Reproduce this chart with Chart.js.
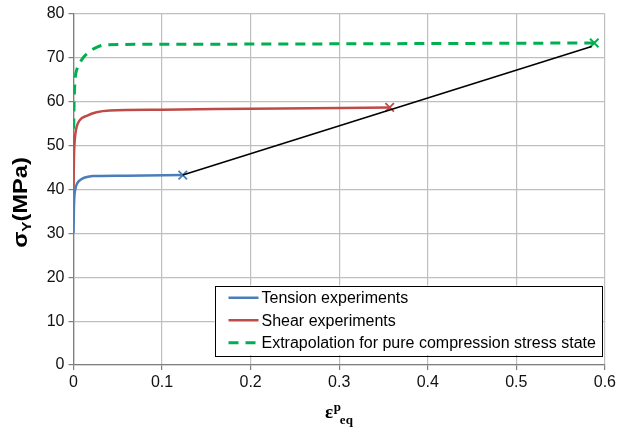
<!DOCTYPE html>
<html>
<head>
<meta charset="utf-8">
<script src="https://cdn.jsdelivr.net/npm/chart.js@4/dist/chart.umd.min.js"></script>
<style>
  html, body { margin: 0; padding: 0; background: #fff; }
  #wrap { width: 619px; height: 428px; }
</style>
</head>
<body>
<div id="wrap"><canvas id="c" width="619" height="428"></canvas></div>
<script>
// Equivalent plastic strain vs yield stress (MPa)
const tensionStrain = [0, 0.0005, 0.001, 0.002, 0.0035, 0.006, 0.01, 0.015, 0.022, 0.03, 0.06, 0.1234];
const tensionStress = [30, 36, 38.5, 40, 41.1, 41.9, 42.5, 42.85, 43.05, 43.1, 43.15, 43.3];

const shearStrain = [0, 0.0005, 0.001, 0.002, 0.0036, 0.007, 0.015, 0.026, 0.041, 0.1, 0.2, 0.357];
const shearStress = [40, 47, 50, 52.5, 54.3, 55.8, 56.8, 57.6, 58.0, 58.2, 58.4, 58.7];

const compStrain = [0, 0.0005, 0.001, 0.002, 0.004, 0.0073, 0.012, 0.0186, 0.026, 0.037, 0.1, 0.3, 0.588];
const compStress = [50, 58, 62, 65.5, 67.5, 68.9, 70.3, 71.5, 72.4, 73.0, 73.1, 73.2, 73.4];

// Straight trend joining the failure points
const trendStrain = [0.1234, 0.585];
const trendStress = [43.3, 72.6];

const seriesNames = ['Tension experiments', 'Shear experiments', 'Extrapolation for pure compression stress state'];
const xTicks = [0, 0.1, 0.2, 0.3, 0.4, 0.5, 0.6];
const yTicks = [0, 10, 20, 30, 40, 50, 60, 70, 80];

const toPoints = (xs, ys) => xs.map((x, i) => ({ x: x, y: ys[i] }));
const lastOnly = (r) => (ctx) => ctx.dataIndex === ctx.dataset.data.length - 1 ? r : 0;

const BLUE = '#4a7ebb', RED = '#be4b48', GREEN = '#00b050';

// Legend boxed inside the plot area, bottom right
const innerLegend = {
  id: 'innerLegend',
  afterDraw(chart) {
    const ctx = chart.ctx, area = chart.chartArea;
    const items = chart.data.datasets.filter(d => d.inLegend);
    ctx.save();
    ctx.font = '16px "Liberation Sans", Arial, sans-serif';
    const sample = 30, gapSample = 3, padL = 14, padR = 6, rowH = 22.5, padV = 1;
    let maxW = 0;
    items.forEach(d => { maxW = Math.max(maxW, ctx.measureText(d.label).width); });
    const w = padL + sample + gapSample + maxW + padR;
    const h = items.length * rowH + padV * 2;
    const right = area.right - 3;
    const bottom = area.bottom - 10;
    const left = right - w, top = bottom - h;
    ctx.fillStyle = '#fff';
    ctx.fillRect(left, top, w, h);
    ctx.strokeStyle = '#000';
    ctx.lineWidth = 1;
    ctx.strokeRect(Math.round(left) + 0.5, Math.round(top) + 0.5, Math.round(w), Math.round(h));
    items.forEach((d, i) => {
      const cy = top + padV + rowH * (i + 0.5);
      ctx.beginPath();
      ctx.strokeStyle = d.borderColor;
      ctx.lineWidth = d.borderWidth;
      ctx.setLineDash(d.borderDash || []);
      ctx.moveTo(left + padL, cy);
      ctx.lineTo(left + padL + sample, cy);
      ctx.stroke();
      ctx.setLineDash([]);
      ctx.fillStyle = '#000';
      ctx.textBaseline = 'middle';
      ctx.textAlign = 'left';
      ctx.fillText(d.label, left + padL + sample + gapSample, cy + 1);
    });
    ctx.restore();
  }
};

// Axis titles with sub/superscripts
const axisTitles = {
  id: 'axisTitles',
  afterDraw(chart) {
    const ctx = chart.ctx, area = chart.chartArea;
    ctx.save();
    ctx.fillStyle = '#000';
    ctx.textBaseline = 'alphabetic';
    ctx.textAlign = 'left';

    // y title: σ_Y(MPa), rotated and slightly widened
    const bigY = 'bold 20px "Liberation Sans", Arial, sans-serif';
    const smallY = 'bold 13px "Liberation Sans", Arial, sans-serif';
    ctx.font = bigY; const w1 = ctx.measureText('σ').width; const w3 = ctx.measureText('(MPa)').width;
    ctx.font = smallY; const w2 = ctx.measureText('Y').width;
    const totalY = w1 + w2 + w3;
    ctx.translate(27, (area.top + area.bottom) / 2 + 13);
    ctx.rotate(-Math.PI / 2);
    ctx.scale(1.18, 1);
    let x = -totalY / 2;
    ctx.font = bigY; ctx.fillText('σ', x, 0); x += w1;
    ctx.font = smallY; ctx.fillText('Y', x, 4); x += w2;
    ctx.font = bigY; ctx.fillText('(MPa)', x, 0);
    ctx.setTransform(1, 0, 0, 1, 0, 0);

    // x title: ε^p_eq
    const bigX = 'bold 19px "Liberation Serif", "Times New Roman", serif';
    const smallX = 'bold 13px "Liberation Serif", "Times New Roman", serif';
    ctx.font = bigX; const e1 = ctx.measureText('ε').width;
    ctx.font = smallX; const e2 = ctx.measureText('p').width; const e3 = ctx.measureText('eq').width;
    const totalX = e1 + e2 + e3;
    const base = 418;
    let xx = (area.left + area.right) / 2 - totalX / 2;
    ctx.font = bigX; ctx.fillText('ε', xx, base); xx += e1 + 0.5;
    ctx.font = smallX; ctx.fillText('p', xx, base - 7);
    ctx.fillText('eq', xx + e2 - 1, base + 6);
    ctx.restore();
  }
};

const tickFont = { family: '"Liberation Sans", Arial, sans-serif', size: 16 };

new Chart(document.getElementById('c'), {
  type: 'line',
  data: {
    datasets: [
      {
        label: seriesNames[0], inLegend: true,
        data: toPoints(tensionStrain, tensionStress),
        borderColor: BLUE, backgroundColor: BLUE, borderWidth: 2.5,
        pointStyle: 'crossRot', pointRadius: lastOnly(6), pointBorderWidth: 1.8,
        pointBorderColor: BLUE, cubicInterpolationMode: 'monotone', order: 2
      },
      {
        label: seriesNames[1], inLegend: true,
        data: toPoints(shearStrain, shearStress),
        borderColor: RED, backgroundColor: RED, borderWidth: 2.5,
        pointStyle: 'crossRot', pointRadius: lastOnly(6), pointBorderWidth: 1.8,
        pointBorderColor: RED, cubicInterpolationMode: 'monotone', order: 2
      },
      {
        label: seriesNames[2], inLegend: true,
        data: toPoints(compStrain, compStress),
        borderColor: GREEN, backgroundColor: GREEN, borderWidth: 3, borderDash: [10, 7],
        pointStyle: 'crossRot', pointRadius: lastOnly(6), pointBorderWidth: 2,
        pointBorderColor: GREEN, cubicInterpolationMode: 'monotone', order: 2
      },
      {
        label: 'trend', inLegend: false,
        data: toPoints(trendStrain, trendStress),
        borderColor: '#000', borderWidth: 1.6, pointRadius: 0, order: 1
      }
    ]
  },
  options: {
    responsive: false,
    animation: false,
    layout: { padding: { top: 14, right: 13, left: 0, bottom: 0 } },
    plugins: { legend: { display: false }, tooltip: { enabled: false } },
    scales: {
      x: {
        type: 'linear', min: xTicks[0], max: xTicks[xTicks.length - 1],
        afterBuildTicks: (s) => { s.ticks = xTicks.map(v => ({ value: v })); },
        afterFit: (s) => { s.height = 63; },
        ticks: {
          font: tickFont, color: '#111', padding: 3, maxRotation: 0,
          callback: (v) => String(Math.round(v * 10) / 10)
        },
        grid: { color: '#bfbfbf', lineWidth: 1.2, tickColor: '#7f7f7f', tickLength: 5 },
        border: { color: '#7f7f7f', width: 1.3 }
      },
      y: {
        type: 'linear', min: yTicks[0], max: yTicks[yTicks.length - 1],
        afterBuildTicks: (s) => { s.ticks = yTicks.map(v => ({ value: v })); },
        afterFit: (s) => { s.width = 73.5; },
        ticks: { font: tickFont, color: '#111', padding: 4 },
        grid: { color: '#bfbfbf', lineWidth: 1.2, tickColor: '#7f7f7f', tickLength: 5 },
        border: { color: '#7f7f7f', width: 1.3 }
      }
    }
  },
  plugins: [innerLegend, axisTitles]
});
</script>
</body>
</html>
